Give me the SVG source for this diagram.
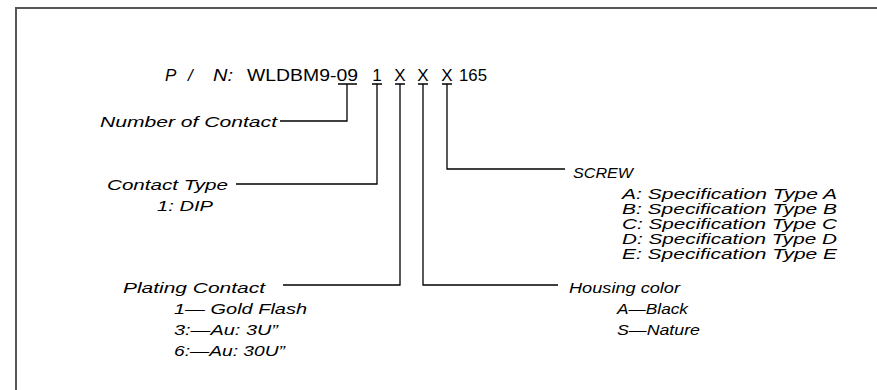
<svg xmlns="http://www.w3.org/2000/svg" width="877" height="390" viewBox="0 0 877 390">
<style>
text{font-family:"Liberation Sans",Arial,sans-serif;font-size:15.5px;fill:#000}
.i{font-style:italic}
.s{font-size:14.5px}
.t{font-size:17px}
.c{fill:none;stroke:#000;stroke-width:1.3}
.f{fill:none;stroke:#555;stroke-width:2}
</style>
<rect width="877" height="390" fill="#fff"/>
<path class="f" d="M16 390V8H877"/>
<g id="pn">
<text class="i t" x="165" y="81">P</text>
<text class="i t" x="188" y="81">/</text>
<text class="i t" x="213" y="81" textLength="20" lengthAdjust="spacingAndGlyphs">N:</text>
<text class="t" x="247" y="81" textLength="111" lengthAdjust="spacingAndGlyphs">WLDBM9-09</text>
<text class="t" x="377" y="81" text-anchor="middle">1</text>
<text class="t" x="400" y="81" text-anchor="middle">X</text>
<text class="t" x="423" y="81" text-anchor="middle">X</text>
<text class="t" x="447" y="81" text-anchor="middle">X</text>
<text class="t" x="459" y="81" textLength="28" lengthAdjust="spacingAndGlyphs">165</text>
</g>
<g id="connectors">
<path class="c" d="M338 84H357M347 84V121H280"/>
<path class="c" d="M372 84H382M377 84V184H236"/>
<path class="c" d="M395 84H405M400 84V285H283"/>
<path class="c" d="M418 84H428M423 84V285H558"/>
<path class="c" d="M442 84H452M447 84V169H565"/>
</g>
<g id="number-of-contact">
<text class="i" x="100" y="127" textLength="177" lengthAdjust="spacingAndGlyphs">Number of Contact</text>
</g>
<g id="contact-type">
<text class="i" x="107" y="190" textLength="121" lengthAdjust="spacingAndGlyphs">Contact Type</text>
<text class="i" x="157" y="211" textLength="56" lengthAdjust="spacingAndGlyphs">1: DIP</text>
</g>
<g id="plating-contact">
<text class="i" x="123" y="293" textLength="142" lengthAdjust="spacingAndGlyphs">Plating Contact</text>
<text class="i" x="174" y="314" textLength="133" lengthAdjust="spacingAndGlyphs">1— Gold Flash</text>
<text class="i" x="174" y="335" textLength="104" lengthAdjust="spacingAndGlyphs">3:—Au: 3U”</text>
<text class="i" x="174" y="356" textLength="111" lengthAdjust="spacingAndGlyphs">6:—Au: 30U”</text>
</g>
<g id="housing-color">
<text class="i" x="569" y="293" textLength="111" lengthAdjust="spacingAndGlyphs">Housing color</text>
<text class="i" x="617" y="314" textLength="71" lengthAdjust="spacingAndGlyphs">A—Black</text>
<text class="i" x="617" y="335" textLength="83" lengthAdjust="spacingAndGlyphs">S—Nature</text>
</g>
<g id="screw">
<text class="i" x="573" y="178" textLength="60" lengthAdjust="spacingAndGlyphs">SCREW</text>
<text class="i s" x="622" y="199" textLength="215" lengthAdjust="spacingAndGlyphs">A: Specification Type A</text>
<text class="i s" x="622" y="214" textLength="215" lengthAdjust="spacingAndGlyphs">B: Specification Type B</text>
<text class="i s" x="622" y="229" textLength="215" lengthAdjust="spacingAndGlyphs">C: Specification Type C</text>
<text class="i s" x="622" y="244" textLength="215" lengthAdjust="spacingAndGlyphs">D: Specification Type D</text>
<text class="i s" x="622" y="259" textLength="215" lengthAdjust="spacingAndGlyphs">E: Specification Type E</text>
</g>
</svg>
